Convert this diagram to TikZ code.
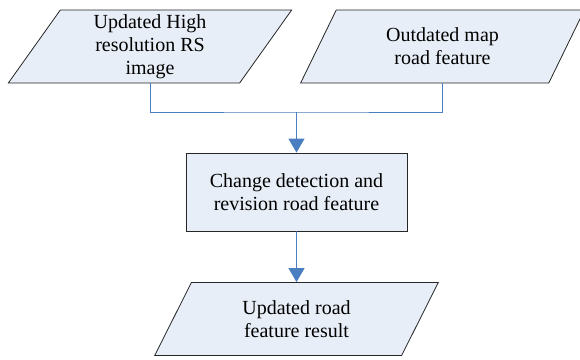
\documentclass[tikz,border=0pt]{standalone}
\usepackage{fontspec}
\setmainfont{Liberation Serif}
\definecolor{boxfill}{RGB}{232, 238, 247}
\definecolor{linkblue}{RGB}{74, 126, 192}
\usetikzlibrary{shapes.geometric, arrows.meta, positioning}
\tikzset{
  iobox/.style={draw=black!85, fill=boxfill, line width=0.8pt, trapezium, trapezium left angle=63, trapezium right angle=117, trapezium stretches=true, minimum width=284pt, minimum height=73pt, align=center, inner sep=0pt, font=\fontsize{20}{23}\selectfont},
  procbox/.style={draw=black!85, fill=boxfill, line width=0.8pt, minimum width=221pt, minimum height=78pt, align=center, inner sep=0pt, font=\fontsize{20}{23}\selectfont},
  flowline/.style={linkblue, line width=0.9pt},
  flowarrow/.style={flowline, -{Triangle[length=14pt, width=16pt]}}
}

\begin{document}
\begin{tikzpicture}[x=1pt, y=-1pt]
  \useasboundingbox (0, 0) rectangle (580, 359);

  % Inputs
  \node[iobox] (image) at (150, 46.5) {Updated High\\resolution RS\\image};
  \node[iobox] (oldmap) at (442.5, 46.5) {Outdated map\\road feature};

  % Change detection
  \node[procbox] (detect) at (296.5, 192) {Change detection and\\revision road feature};

  % Output
  \node[iobox] (result) at (296.5, 319) {Updated road\\feature result};

  % Links
  \coordinate (merge) at (296.5, 112);
  \draw[flowline] (image.south) |- (merge) -| (oldmap.south);
  \draw[flowarrow] (merge) -- (detect.north);
  \draw[flowarrow] (detect.south) -- (result.north);
\end{tikzpicture}
\end{document}
